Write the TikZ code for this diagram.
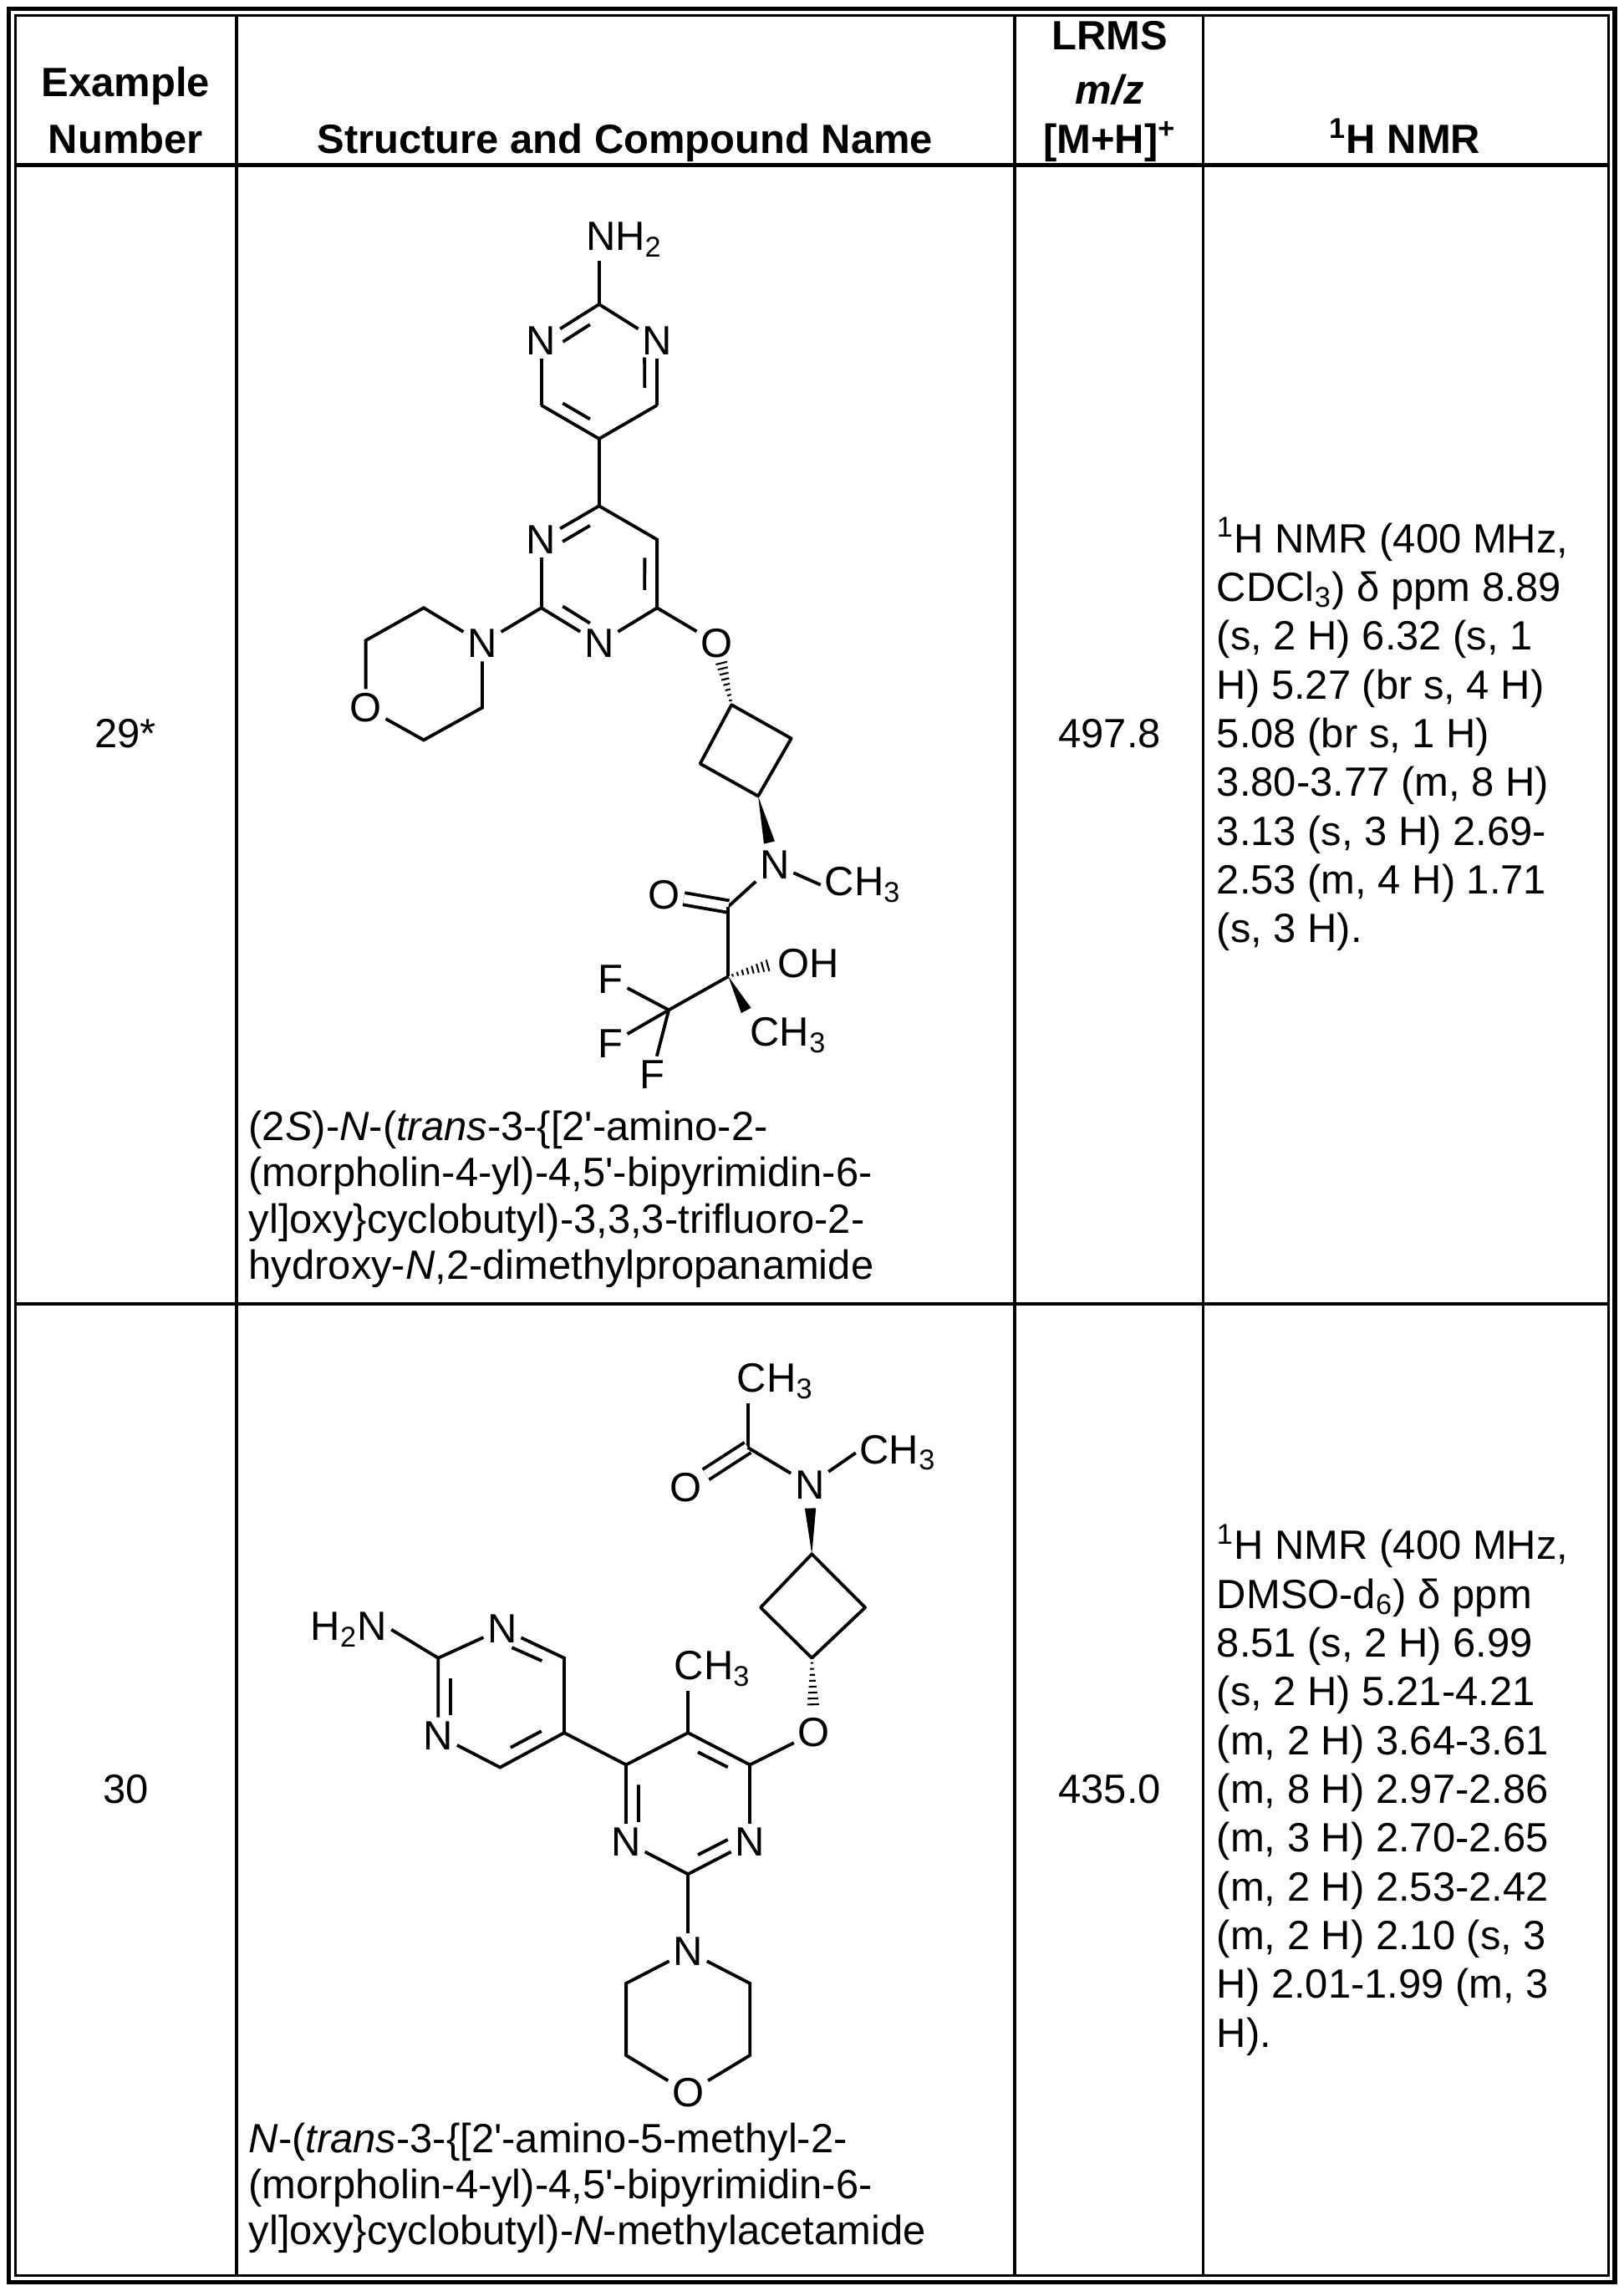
\documentclass[tikz,border=0pt]{standalone}
\usepackage{fontspec}
\setmainfont{Liberation Sans}[Ligatures=TeXOff]
\usetikzlibrary{calc}
\newcommand\fs{\fontsize{14}{16.7}\selectfont}
\newcommand\dbin[3]{\draw[bond] ($($(#1)!0.2!(#2)$)!4.5pt!(#3)$) -- ($($(#2)!0.2!(#1)$)!4.5pt!(#3)$);}
\newcommand\wdg[2]{\fill (#1) -- ($(#2)!1.9pt!90:(#1)$) -- ($(#2)!1.9pt!-90:(#1)$) -- cycle;}
\newcommand\hsh[2]{\foreach \hh in {0.1,0.22,0.34,0.46,0.58,0.7,0.82,0.94}{\pgfmathsetmacro\ww{0.3+1.8*\hh}\draw[line width=0.6pt] ($($(#1)!\hh!(#2)$)!\ww pt!90:(#2)$) -- ($($(#1)!\hh!(#2)$)!\ww pt!-90:(#2)$);}}
\begin{document}
\begin{tikzpicture}[x=0.5pt,y=-0.5pt,
 bond/.style={line width=1.1pt},
 atom/.style={inner sep=1.2pt,font=\fs},
 txt/.style={inner sep=0pt,font=\fs,anchor=base west},
 ctxt/.style={inner sep=0pt,font=\fs,anchor=base},
 hdr/.style={inner sep=0pt,font=\fs\bfseries,anchor=base},
 rule/.style={line width=1pt}]
\useasboundingbox (0,0) rectangle (1112,1569);
% table
\draw[line width=1.6pt] (6,6) rectangle (1106,1563);
\draw[line width=0.7pt] (10.5,10.5) rectangle (1101.5,1558.5);
\draw[line width=1.6pt] (10.5,113) -- (1101.5,113);
\draw[line width=1.2pt] (10.5,893) -- (1101.5,893);
\foreach \cx in {162,695,824}{\draw[rule] (\cx,10.5) -- (\cx,1558.5);}
% header
\node[hdr] (h1a) at (86,66) {Example};
\node[hdr] (h1b) at (86,105) {Number};
\node[hdr] (h2) at (428,105) {Structure and Compound Name};
\node[hdr] (h3a) at (760,34) {LRMS};
\node[hdr] (h3b) at (760,71) {\textit{m/z}};
\node[hdr] (h3c) at (760,105) {[M+H]\textsuperscript{+}};
\node[hdr] (h4) at (962,105) {\textsuperscript{1}H NMR};
% row data
\node[ctxt] (ex1) at (86,512) {29*};
\node[ctxt] (ms1) at (760,512) {497.8};
\node[ctxt] (ex2) at (86,1235) {30};
\node[ctxt] (ms2) at (760,1235) {435.0};
\foreach \l [count=\i from 0] in {{\textsuperscript{1}H NMR (400 MHz,},{CDCl\textsubscript{3}) δ ppm 8.89},{(s, 2 H) 6.32 (s, 1},{H) 5.27 (br s, 4 H)},{5.08 (br s, 1 H)},{3.80-3.77 (m, 8 H)},{3.13 (s, 3 H) 2.69-},{2.53 (m, 4 H) 1.71},{(s, 3 H).}}
 {\node[txt] (nmra\i) at (833,{378.4+\i*33.4}) {\l};}
\foreach \l [count=\i from 0] in {{\textsuperscript{1}H NMR (400 MHz,},{DMSO-d\textsubscript{6}) δ ppm},{8.51 (s, 2 H) 6.99},{(s, 2 H) 5.21-4.21},{(m, 2 H) 3.64-3.61},{(m, 8 H) 2.97-2.86},{(m, 3 H) 2.70-2.65},{(m, 2 H) 2.53-2.42},{(m, 2 H) 2.10 (s, 3},{H) 2.01-1.99 (m, 3},{H).}}
 {\node[txt] (nmrb\i) at (833,{1068+\i*33.4}) {\l};}
\foreach \l [count=\i from 0] in {{(2\textit{S})-\textit{N}-(\textit{trans}-3-\{[2'-amino-2-},{(morpholin-4-yl)-4,5'-bipyrimidin-6-},{yl]oxy\}cyclobutyl)-3,3,3-trifluoro-2-},{hydroxy-\textit{N},2-dimethylpropanamide}}
 {\node[txt] (nma\i) at (170,{781+\i*31.7}) {\l};}
\foreach \l [count=\i from 0] in {{\textit{N}-(\textit{trans}-3-\{[2'-amino-5-methyl-2-},{(morpholin-4-yl)-4,5'-bipyrimidin-6-},{yl]oxy\}cyclobutyl)-\textit{N}-methylacetamide}}
 {\node[txt] (nmb\i) at (170,{1474+\i*31.7}) {\l};}
% ===== structure 1 =====
\node[atom,anchor=west] (anh) at (398.5,164) {NH\textsubscript{2}};
\coordinate (ac2) at (410.3,208.4);
\node[atom] (an1) at (370.7,233.3) {N};
\node[atom] (an3) at (450,233.3) {N};
\coordinate (ac6) at (370.7,277.5);
\coordinate (ac4) at (450,277.5);
\coordinate (ac5) at (410.3,300.5);
\coordinate (ar) at (410.3,254.5);
\draw[bond] (ac2) -- (ac2 |- anh.south);
\draw[bond] (ac2) -- (an1);
\draw[bond] (ac2) -- (an3);
\draw[bond] (an1) -- (ac6);
\draw[bond] (an3) -- (ac4);
\draw[bond] (ac6) -- (ac5) -- (ac4);
\dbin{ac2}{an1}{ar}\dbin{an3}{ac4}{ar}\dbin{ac6}{ac5}{ar}
\coordinate (bc4) at (410.3,346.5);
\node[atom] (bn3) at (370.7,369.5) {N};
\coordinate (bc5) at (450,369.5);
\coordinate (bc2) at (370.7,416.3);
\coordinate (bc6) at (450,416.3);
\node[atom] (bn1) at (410.3,440.5) {N};
\coordinate (br) at (410.3,393.5);
\draw[bond] (ac5) -- (bc4);
\draw[bond] (bc4) -- (bn3);
\draw[bond] (bc4) -- (bc5) -- (bc6);
\draw[bond] (bn3) -- (bc2);
\draw[bond] (bc2) -- (bn1);
\draw[bond] (bc6) -- (bn1);
\dbin{bc4}{bn3}{br}\dbin{bc5}{bc6}{br}\dbin{bc2}{bn1}{br}
\node[atom] (mn) at (330.3,440.5) {N};
\coordinate (ma) at (290.2,416.3);
\coordinate (mb) at (250.5,438.6);
\node[atom] (mo) at (250.5,484.6) {O};
\coordinate (mc) at (290.2,506.8);
\coordinate (md) at (330.3,484.6);
\draw[bond] (bc2) -- (mn);
\draw[bond] (mn) -- (ma) -- (mb) -- (mo);
\draw[bond] (mo) -- (mc) -- (md) -- (mn);
\node[atom] (ao) at (490.8,440.5) {O};
\draw[bond] (bc6) -- (ao);
\coordinate (cb1) at (501,482.7);
\coordinate (cb2) at (541.9,505.7);
\coordinate (cb3) at (519.2,545.2);
\coordinate (cb4) at (479.5,523);
\draw[bond,line join=round] (cb1) -- (cb2) -- (cb3) -- (cb4) -- cycle;
\coordinate (hoe) at ($(cb1)!0.72!(ao)$);
\hsh{cb1}{hoe}
\node[atom] (amn) at (530.5,592) {N};
\coordinate (wne) at ($(cb3)!0.68!(amn)$);
\wdg{cb3}{wne}
\node[atom,anchor=west] (ach3) at (562,606) {CH\textsubscript{3}};
\draw[bond] (amn) -- (ach3.west);
\coordinate (amc) at (498.8,620.8);
\node[atom] (amo) at (454.6,613.1) {O};
\draw[bond] (amn) -- (amc);
\draw[bond,double,double distance=3pt] (amc) -- (amo);
\coordinate (cq) at (498.8,668.7);
\draw[bond] (amc) -- (cq);
\node[atom,anchor=west] (aoh) at (530,660) {OH};
\coordinate (ohe) at ($(cq)!0.92!(aoh.west)$);
\hsh{cq}{ohe}
\node[atom,anchor=west] (bch3) at (511,709) {CH\textsubscript{3}};
\coordinate (cme) at (511,692);
\wdg{cq}{cme}
\coordinate (cf) at (458,691.7);
\draw[bond] (cq) -- (cf);
\node[atom] (f1) at (418.3,670.6) {F};
\node[atom] (f2) at (418.3,714.7) {F};
\node[atom] (f3) at (446.6,735.8) {F};
\draw[bond] (cf) -- (f1);
\draw[bond] (cf) -- (f2);
\draw[bond] (cf) -- (f3);
% ===== structure 2 =====
\node[atom,anchor=west] (tch3) at (502,946) {CH\textsubscript{3}};
\coordinate (acc) at (512.1,991.3);
\draw[bond] (acc) -- (acc |- tch3.south);
\node[atom] (aco) at (469.7,1018.7) {O};
\draw[bond,double,double distance=3pt] (acc) -- (aco);
\node[atom] (acn) at (554.5,1016.8) {N};
\draw[bond] (acc) -- (acn);
\node[atom,anchor=west] (nch3) at (586,995) {CH\textsubscript{3}};
\draw[bond] (acn) -- (nch3.west);
\coordinate (kt) at (556,1064.3);
\coordinate (kl) at (520.9,1100.9);
\coordinate (kb) at (556,1135.5);
\coordinate (kr) at (592.5,1100.9);
\draw[bond,line join=round] (kt) -- (kl) -- (kb) -- (kr) -- cycle;
\coordinate (wn2) at ($(kt)!0.66!(acn)$);
\wdg{kt}{wn2}
\node[atom] (po) at (557.4,1186.7) {O};
\coordinate (ho2) at ($(kb)!0.66!(po)$);
\hsh{kb}{ho2}
\coordinate (pc6) at (513.6,1208.6);
\coordinate (pc5) at (471.2,1186.7);
\coordinate (pc4) at (428.8,1208.6);
\node[atom] (pn3) at (428.8,1261.5) {N};
\coordinate (pc2) at (471.2,1283.5);
\node[atom] (pn1) at (513.6,1261.5) {N};
\coordinate (pr) at (471.2,1235);
\draw[bond] (po) -- (pc6);
\draw[bond] (pc6) -- (pc5) -- (pc4);
\draw[bond] (pc4) -- (pn3);
\draw[bond] (pn3) -- (pc2);
\draw[bond] (pc2) -- (pn1);
\draw[bond] (pn1) -- (pc6);
\dbin{pc6}{pc5}{pr}\dbin{pc4}{pn3}{pr}\dbin{pc2}{pn1}{pr}
\node[atom,anchor=west] (pch3) at (459,1143) {CH\textsubscript{3}};
\draw[bond] (pc5) -- (pc5 |- pch3.south);
\node[atom] (qmn) at (471.2,1336.4) {N};
\coordinate (qa) at (428.8,1358.3);
\coordinate (qb) at (428.8,1407.6);
\node[atom] (qmo) at (471.2,1433.2) {O};
\coordinate (qc) at (513.6,1407.6);
\coordinate (qd) at (513.6,1358.3);
\draw[bond] (pc2) -- (qmn);
\draw[bond] (qmn) -- (qa) -- (qb) -- (qmo);
\draw[bond] (qmo) -- (qc) -- (qd) -- (qmn);
\coordinate (qc5) at (386.4,1186.7);
\coordinate (qc4) at (386.4,1135.5);
\node[atom] (qn3) at (344,1115.5) {N};
\coordinate (qc2) at (300.1,1135.5);
\node[atom] (qn1) at (300.1,1188.5) {N};
\coordinate (qc6) at (342.5,1210.4);
\coordinate (qr) at (343.3,1162);
\draw[bond] (pc4) -- (qc5);
\draw[bond] (qc5) -- (qc4) -- (qn3);
\draw[bond] (qn3) -- (qc2) -- (qn1);
\draw[bond] (qn1) -- (qc6) -- (qc5);
\dbin{qc4}{qn3}{qr}\dbin{qc2}{qn1}{qr}\dbin{qc6}{qc5}{qr}
\node[atom,anchor=east] (h2n) at (268,1116) {H\textsubscript{2}N};
\draw[bond] (qc2) -- (h2n.east);
\end{tikzpicture}
\end{document}
